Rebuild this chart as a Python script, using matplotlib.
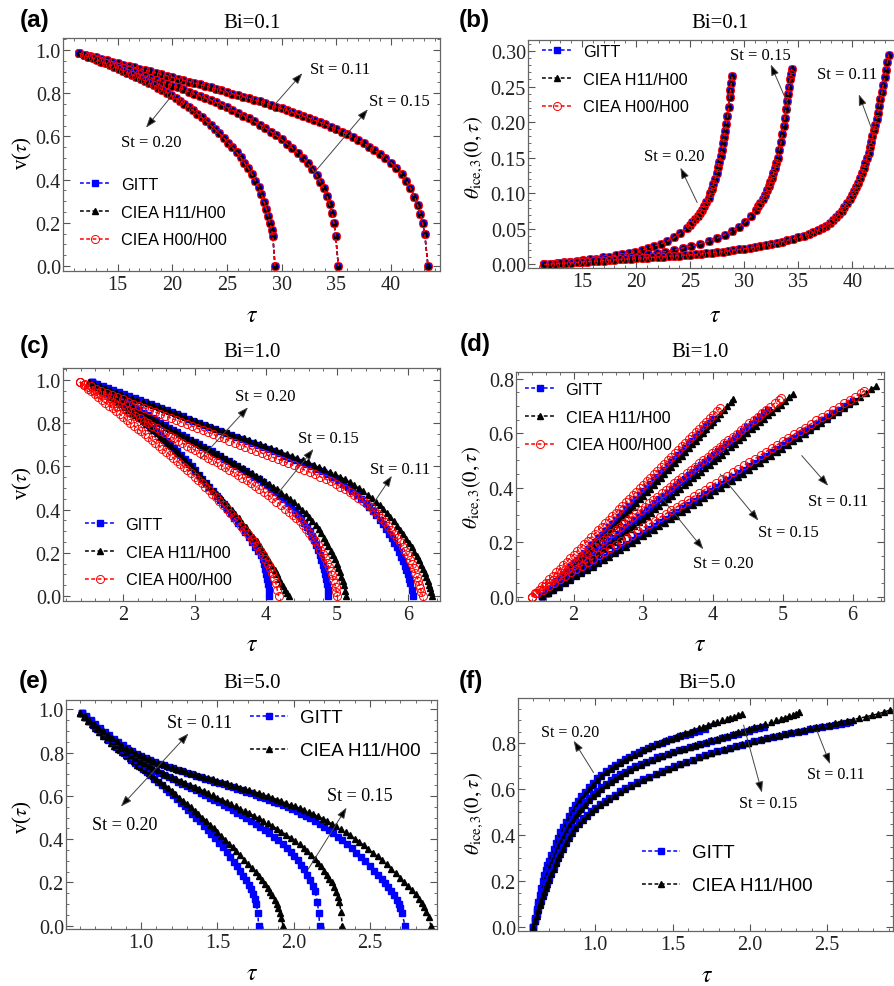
import matplotlib.pyplot as plt
from matplotlib.ticker import MultipleLocator, FormatStrFormatter

plt.rcParams['font.family'] = ['Liberation Serif', 'DejaVu Serif']
plt.rcParams['mathtext.fontset'] = 'stix'

W, H = 894, 987

# ---------------- (a) v(tau), Bi = 0.1  (the three methods overlap) ----------------
a_tau_011 = [11.5, 12.0, 12.5, 13.0, 13.5, 14.0, 14.5, 15.0, 15.5, 16.0, 16.5, 17.0, 17.5, 18.0,
             18.5, 19.0, 19.5, 20.0, 20.5, 21.0, 21.5, 22.0, 22.5, 23.0, 23.5, 24.0, 24.5, 25.0,
             25.5, 26.0, 26.5, 27.0, 27.5, 28.0, 28.5, 29.0, 29.5, 30.0, 30.5, 31.0, 31.5, 32.0,
             32.5, 33.0, 33.5, 34.0, 34.5, 35.0, 35.5, 36.0, 36.5, 37.0, 37.5, 38.0, 38.5, 39.0,
             39.5, 40.0, 40.5, 41.0, 41.4, 41.8, 42.15, 42.45, 42.7, 42.9, 43.1, 43.4]
a_v_011 = [0.985, 0.979, 0.972, 0.966, 0.959, 0.953, 0.946, 0.940, 0.933, 0.927, 0.920, 0.914,
           0.907, 0.901, 0.894, 0.888, 0.881, 0.874, 0.867, 0.861, 0.854, 0.848, 0.841, 0.834,
           0.827, 0.820, 0.813, 0.806, 0.798, 0.791, 0.784, 0.777, 0.769, 0.762, 0.754, 0.746,
           0.738, 0.730, 0.721, 0.713, 0.704, 0.695, 0.686, 0.676, 0.666, 0.656, 0.645, 0.634,
           0.622, 0.610, 0.597, 0.583, 0.569, 0.553, 0.537, 0.519, 0.500, 0.479, 0.455, 0.425,
           0.396, 0.360, 0.322, 0.282, 0.240, 0.200, 0.150, 0.0]
a_tau_015 = [11.5, 12.0, 12.5, 13.0, 13.5, 14.0, 14.5, 15.0, 15.5, 16.0, 16.5, 17.0, 17.5, 18.0,
             18.5, 19.0, 19.5, 20.0, 20.5, 21.0, 21.5, 22.0, 22.5, 23.0, 23.5, 24.0, 24.5, 25.0,
             25.5, 26.0, 26.5, 27.0, 27.5, 28.0, 28.5, 29.0, 29.5, 30.0, 30.5, 31.0, 31.5, 32.0,
             32.4, 32.8, 33.2, 33.55, 33.85, 34.15, 34.4, 34.6, 34.8, 34.95, 35.2]
a_v_015 = [0.985, 0.976, 0.968, 0.959, 0.950, 0.942, 0.933, 0.924, 0.916, 0.907, 0.898, 0.890,
           0.881, 0.872, 0.863, 0.854, 0.845, 0.836, 0.827, 0.818, 0.808, 0.798, 0.789, 0.779,
           0.769, 0.759, 0.748, 0.735, 0.722, 0.710, 0.697, 0.684, 0.670, 0.655, 0.640, 0.623,
           0.605, 0.586, 0.567, 0.546, 0.524, 0.499, 0.476, 0.450, 0.421, 0.390, 0.360, 0.323,
           0.285, 0.247, 0.200, 0.140, 0.0]
a_tau_020 = [11.5, 11.9, 12.3, 12.7, 13.1, 13.5, 13.9, 14.3, 14.7, 15.1, 15.5, 15.9, 16.3, 16.7,
             17.1, 17.5, 17.9, 18.3, 18.7, 19.1, 19.5, 19.9, 20.3, 20.7, 21.1, 21.5, 21.9, 22.3,
             22.7, 23.1, 23.5, 23.9, 24.3, 24.7, 25.1, 25.5, 25.9, 26.25, 26.6, 26.95, 27.3, 27.6,
             27.9, 28.15, 28.4, 28.6, 28.8, 28.95, 29.1, 29.2, 29.4]
a_v_020 = [0.985, 0.977, 0.969, 0.962, 0.954, 0.946, 0.938, 0.930, 0.922, 0.913, 0.904, 0.895,
           0.886, 0.877, 0.867, 0.857, 0.847, 0.837, 0.826, 0.815, 0.803, 0.791, 0.778, 0.765,
           0.751, 0.736, 0.721, 0.705, 0.688, 0.671, 0.653, 0.634, 0.615, 0.594, 0.572, 0.550,
           0.526, 0.503, 0.479, 0.453, 0.424, 0.396, 0.364, 0.332, 0.297, 0.265, 0.230, 0.200,
           0.165, 0.140, 0.0]

# ---------------- (b) theta_ice,3(0,tau), Bi = 0.1 ----------------
b_tau_020 = [11.5, 12.1, 12.7, 13.3, 13.9, 14.5, 15.1, 15.7, 16.3, 16.9, 17.5, 18.1, 18.7, 19.3,
             19.9, 20.5, 21.1, 21.7, 22.3, 22.9, 23.5, 24.1, 24.7, 24.95, 25.2, 25.45, 25.7, 25.9,
             26.1, 26.3, 26.5, 26.7, 26.85, 27.0, 27.15, 27.3, 27.45, 27.6, 27.7, 27.85, 27.95,
             28.05, 28.15, 28.25, 28.35, 28.45, 28.55, 28.65, 28.72, 28.8, 28.9]
b_th_020 = [0.0, 0.001, 0.002, 0.003, 0.004, 0.005, 0.006, 0.007, 0.008, 0.010, 0.011, 0.013,
            0.014, 0.016, 0.018, 0.020, 0.023, 0.026, 0.029, 0.033, 0.038, 0.044, 0.051, 0.055,
            0.059, 0.0635, 0.068, 0.0725, 0.077, 0.0825, 0.088, 0.094, 0.100, 0.106, 0.113,
            0.120, 0.128, 0.137, 0.144, 0.152, 0.161, 0.170, 0.179, 0.188, 0.198, 0.208, 0.221,
            0.235, 0.245, 0.255, 0.265]
b_tau_015 = [11.5, 12.3, 13.1, 13.9, 14.7, 15.5, 16.3, 17.1, 17.9, 18.7, 19.5, 20.3, 21.1, 21.9,
             22.7, 23.5, 24.3, 25.1, 25.9, 26.7, 27.5, 28.2, 28.9, 29.5, 30.1, 30.6, 31.1, 31.3,
             31.5, 31.7, 31.9, 32.1, 32.25, 32.4, 32.55, 32.7, 32.85, 32.98, 33.1, 33.25, 33.4,
             33.52, 33.65, 33.75, 33.85, 33.95, 34.05, 34.15, 34.25, 34.33, 34.4]
b_th_015 = [0.0, 0.001, 0.002, 0.003, 0.004, 0.005, 0.006, 0.007, 0.008, 0.010, 0.011, 0.012,
            0.014, 0.016, 0.018, 0.020, 0.023, 0.026, 0.029, 0.033, 0.037, 0.042, 0.047, 0.053,
            0.060, 0.068, 0.077, 0.082, 0.087, 0.0925, 0.098, 0.104, 0.110, 0.116, 0.122, 0.128,
            0.135, 0.142, 0.150, 0.161, 0.172, 0.183, 0.195, 0.206, 0.218, 0.229, 0.240, 0.250,
            0.260, 0.268, 0.275]
b_tau_011 = [11.5, 12.0, 12.5, 13.0, 13.5, 14.0, 14.5, 15.0, 15.5, 16.0, 16.5, 17.0, 17.5, 18.0,
             18.5, 19.0, 19.5, 20.0, 20.5, 21.0, 21.5, 22.0, 22.5, 23.0, 23.5, 24.0, 24.5, 25.0,
             25.5, 26.0, 26.5, 27.0, 27.5, 28.0, 28.5, 29.0, 29.5, 30.0, 30.5, 31.0, 31.5, 32.0,
             32.5, 33.0, 33.5, 34.0, 34.5, 35.0, 35.5, 36.0, 36.4, 36.8, 37.2, 37.55, 37.9, 38.2,
             38.5, 38.75, 39.0, 39.25, 39.5, 39.75, 39.95, 40.15, 40.35, 40.55, 40.7, 40.9, 41.05,
             41.2, 41.35, 41.5, 41.6, 41.75, 41.85, 42.0, 42.1, 42.25, 42.35, 42.5, 42.6, 42.75,
             42.85, 43.0, 43.1, 43.25, 43.35]
b_th_011 = [0.0, 0.0005, 0.001, 0.0015, 0.002, 0.0025, 0.003, 0.0035, 0.004, 0.0045, 0.005,
            0.0055, 0.006, 0.0065, 0.007, 0.0075, 0.008, 0.0085, 0.009, 0.0095, 0.010, 0.0105,
            0.011, 0.0115, 0.012, 0.0125, 0.013, 0.0135, 0.014, 0.015, 0.016, 0.0165, 0.017,
            0.018, 0.019, 0.020, 0.021, 0.022, 0.023, 0.0245, 0.026, 0.0275, 0.029, 0.0305,
            0.032, 0.034, 0.036, 0.038, 0.040, 0.0425, 0.045, 0.048, 0.051, 0.0545, 0.058,
            0.062, 0.066, 0.0705, 0.075, 0.0805, 0.086, 0.092, 0.097, 0.103, 0.109, 0.115,
            0.121, 0.128, 0.135, 0.142, 0.150, 0.157, 0.165, 0.172, 0.180, 0.189, 0.196, 0.205,
            0.213, 0.223, 0.232, 0.243, 0.252, 0.263, 0.273, 0.285, 0.295]

# ---------------- (c) v(tau), Bi = 1.0 ----------------
c_tau_gitt_020 = [1.56, 1.61, 1.66, 1.71, 1.76, 1.81, 1.86, 1.91, 1.96, 2.01, 2.06, 2.11, 2.16,
                  2.21, 2.26, 2.31, 2.36, 2.41, 2.46, 2.51, 2.56, 2.61, 2.66, 2.71, 2.76, 2.81,
                  2.86, 2.91, 2.96, 3.01, 3.06, 3.11, 3.16, 3.21, 3.26, 3.31, 3.36, 3.41, 3.46,
                  3.51, 3.56, 3.61, 3.66, 3.71, 3.76, 3.805, 3.85, 3.89, 3.93, 3.955, 3.98, 3.995,
                  4.01, 4.02, 4.03, 4.04, 4.05]
c_v_gitt_020 = [0.99, 0.979, 0.968, 0.957, 0.946, 0.934, 0.922, 0.910, 0.898, 0.886, 0.873,
                0.860, 0.847, 0.834, 0.820, 0.806, 0.792, 0.778, 0.763, 0.748, 0.733, 0.718,
                0.702, 0.686, 0.670, 0.653, 0.636, 0.618, 0.600, 0.581, 0.562, 0.543, 0.523,
                0.504, 0.484, 0.464, 0.444, 0.424, 0.404, 0.383, 0.362, 0.340, 0.318, 0.295,
                0.272, 0.250, 0.228, 0.209, 0.190, 0.170, 0.150, 0.125, 0.100, 0.078, 0.055,
                0.030, 0.0]
c_tau_h11_020 = [1.52, 1.57, 1.62, 1.67, 1.72, 1.77, 1.82, 1.87, 1.92, 1.97, 2.02, 2.07, 2.12,
                 2.17, 2.22, 2.27, 2.32, 2.37, 2.42, 2.47, 2.52, 2.57, 2.62, 2.67, 2.72, 2.77,
                 2.82, 2.87, 2.92, 2.97, 3.02, 3.07, 3.12, 3.17, 3.22, 3.27, 3.32, 3.37, 3.42,
                 3.47, 3.52, 3.57, 3.62, 3.67, 3.72, 3.77, 3.82, 3.87, 3.92, 3.965, 4.01, 4.05,
                 4.09, 4.125, 4.16, 4.19, 4.22, 4.245, 4.27, 4.295, 4.32]
c_v_h11_020 = [0.99, 0.979, 0.968, 0.957, 0.946, 0.935, 0.923, 0.911, 0.899, 0.887, 0.874,
               0.862, 0.849, 0.836, 0.822, 0.809, 0.795, 0.781, 0.767, 0.753, 0.738, 0.723,
               0.708, 0.693, 0.677, 0.661, 0.645, 0.629, 0.612, 0.595, 0.578, 0.561, 0.543,
               0.525, 0.506, 0.488, 0.470, 0.453, 0.435, 0.418, 0.400, 0.380, 0.360, 0.339,
               0.318, 0.297, 0.275, 0.253, 0.230, 0.208, 0.185, 0.163, 0.140, 0.120, 0.100,
               0.080, 0.060, 0.045, 0.030, 0.015, 0.0]
c_tau_h00_020 = [1.39, 1.445, 1.50, 1.55, 1.60, 1.65, 1.70, 1.75, 1.80, 1.85, 1.90, 1.95, 2.00,
                 2.05, 2.10, 2.15, 2.20, 2.25, 2.30, 2.35, 2.40, 2.45, 2.50, 2.55, 2.60, 2.65,
                 2.70, 2.75, 2.80, 2.85, 2.90, 2.95, 3.00, 3.05, 3.10, 3.15, 3.20, 3.25, 3.30,
                 3.35, 3.40, 3.45, 3.50, 3.55, 3.60, 3.65, 3.70, 3.75, 3.80, 3.84, 3.88, 3.92,
                 3.96, 3.995, 4.03, 4.06, 4.09, 4.115, 4.14, 4.16, 4.18]
c_v_h00_020 = [0.99, 0.975, 0.960, 0.948, 0.935, 0.922, 0.908, 0.894, 0.880, 0.868, 0.855,
               0.842, 0.828, 0.814, 0.800, 0.788, 0.775, 0.763, 0.750, 0.737, 0.723, 0.710,
               0.696, 0.682, 0.668, 0.654, 0.640, 0.626, 0.612, 0.598, 0.583, 0.568, 0.553,
               0.538, 0.522, 0.506, 0.490, 0.473, 0.456, 0.438, 0.420, 0.402, 0.383, 0.364,
               0.345, 0.325, 0.305, 0.285, 0.265, 0.248, 0.230, 0.210, 0.190, 0.170, 0.150,
               0.128, 0.105, 0.083, 0.060, 0.030, 0.0]

c_tau_gitt_015 = [1.56, 1.62, 1.68, 1.74, 1.80, 1.86, 1.92, 1.98, 2.04, 2.10, 2.16, 2.22, 2.28,
                  2.34, 2.40, 2.46, 2.52, 2.58, 2.64, 2.70, 2.76, 2.82, 2.88, 2.94, 3.00, 3.06,
                  3.12, 3.18, 3.24, 3.30, 3.36, 3.42, 3.48, 3.54, 3.60, 3.66, 3.72, 3.78, 3.84,
                  3.90, 3.96, 4.02, 4.08, 4.14, 4.20, 4.255, 4.31, 4.36, 4.41, 4.455, 4.50, 4.54,
                  4.58, 4.615, 4.65, 4.68, 4.71, 4.735, 4.76, 4.78, 4.80, 4.815, 4.83, 4.845,
                  4.86, 4.87, 4.88]
c_v_gitt_015 = [0.99, 0.977, 0.965, 0.953, 0.941, 0.929, 0.917, 0.905, 0.894, 0.882, 0.871,
                0.859, 0.848, 0.836, 0.825, 0.813, 0.802, 0.790, 0.779, 0.768, 0.757, 0.746,
                0.735, 0.724, 0.713, 0.702, 0.691, 0.680, 0.669, 0.658, 0.647, 0.636, 0.625,
                0.613, 0.602, 0.590, 0.578, 0.566, 0.553, 0.540, 0.526, 0.512, 0.497, 0.481,
                0.465, 0.449, 0.432, 0.415, 0.398, 0.379, 0.360, 0.340, 0.320, 0.299, 0.278,
                0.257, 0.235, 0.213, 0.190, 0.168, 0.145, 0.123, 0.100, 0.078, 0.055, 0.028, 0.0]
c_tau_h11_015 = [1.52, 1.58, 1.64, 1.70, 1.76, 1.82, 1.88, 1.94, 2.00, 2.06, 2.12, 2.18, 2.24,
                 2.30, 2.36, 2.42, 2.48, 2.54, 2.60, 2.66, 2.72, 2.78, 2.84, 2.90, 2.96, 3.02,
                 3.08, 3.14, 3.20, 3.26, 3.32, 3.38, 3.44, 3.50, 3.56, 3.62, 3.68, 3.74, 3.80,
                 3.86, 3.92, 3.98, 4.04, 4.10, 4.16, 4.22, 4.28, 4.34, 4.40, 4.455, 4.51, 4.56,
                 4.61, 4.655, 4.70, 4.74, 4.78, 4.815, 4.85, 4.88, 4.91, 4.94, 4.97, 4.995, 5.02,
                 5.04, 5.06, 5.08, 5.10, 5.115, 5.13]
c_v_h11_015 = [0.99, 0.978, 0.966, 0.954, 0.942, 0.930, 0.919, 0.907, 0.896, 0.884, 0.873,
               0.861, 0.850, 0.839, 0.828, 0.817, 0.806, 0.795, 0.784, 0.773, 0.762, 0.751,
               0.741, 0.730, 0.720, 0.709, 0.699, 0.688, 0.678, 0.667, 0.657, 0.646, 0.636,
               0.625, 0.614, 0.603, 0.592, 0.580, 0.569, 0.557, 0.545, 0.532, 0.520, 0.506,
               0.493, 0.478, 0.464, 0.448, 0.433, 0.416, 0.400, 0.383, 0.365, 0.346, 0.328,
               0.309, 0.290, 0.270, 0.250, 0.230, 0.210, 0.190, 0.170, 0.150, 0.130, 0.110,
               0.090, 0.070, 0.050, 0.025, 0.0]
c_tau_h00_015 = [1.39, 1.45, 1.51, 1.57, 1.63, 1.69, 1.75, 1.81, 1.87, 1.93, 1.99, 2.05, 2.11,
                 2.17, 2.23, 2.29, 2.35, 2.41, 2.47, 2.53, 2.59, 2.65, 2.71, 2.77, 2.83, 2.89,
                 2.95, 3.01, 3.07, 3.13, 3.19, 3.25, 3.31, 3.37, 3.43, 3.49, 3.55, 3.61, 3.67,
                 3.73, 3.79, 3.85, 3.91, 3.97, 4.03, 4.09, 4.15, 4.21, 4.27, 4.325, 4.38, 4.43,
                 4.48, 4.525, 4.57, 4.61, 4.65, 4.69, 4.73, 4.765, 4.80, 4.83, 4.86, 4.885, 4.91,
                 4.93, 4.95, 4.965, 4.98, 4.99, 5.00]
c_v_h00_015 = [0.99, 0.977, 0.965, 0.952, 0.940, 0.928, 0.916, 0.904, 0.893, 0.881, 0.870,
               0.858, 0.846, 0.834, 0.822, 0.810, 0.799, 0.787, 0.776, 0.764, 0.752, 0.741,
               0.730, 0.718, 0.707, 0.696, 0.685, 0.674, 0.663, 0.651, 0.640, 0.629, 0.618,
               0.606, 0.595, 0.583, 0.572, 0.560, 0.548, 0.535, 0.522, 0.509, 0.496, 0.482,
               0.467, 0.452, 0.437, 0.421, 0.404, 0.390, 0.375, 0.360, 0.345, 0.328, 0.310,
               0.293, 0.275, 0.255, 0.235, 0.215, 0.195, 0.175, 0.155, 0.135, 0.115, 0.095,
               0.075, 0.058, 0.040, 0.020, 0.0]

c_tau_gitt_011 = [1.56, 1.635, 1.71, 1.785, 1.86, 1.935, 2.01, 2.085, 2.16, 2.235, 2.31, 2.385,
                  2.46, 2.535, 2.61, 2.685, 2.76, 2.835, 2.91, 2.985, 3.06, 3.135, 3.21, 3.285,
                  3.36, 3.435, 3.51, 3.585, 3.66, 3.735, 3.81, 3.885, 3.96, 4.035, 4.11, 4.185,
                  4.26, 4.335, 4.41, 4.485, 4.56, 4.635, 4.71, 4.785, 4.86, 4.935, 5.01, 5.08,
                  5.15, 5.215, 5.28, 5.34, 5.40, 5.45, 5.50, 5.55, 5.60, 5.645, 5.69, 5.73, 5.77,
                  5.805, 5.84, 5.87, 5.90, 5.925, 5.95, 5.97, 5.99, 6.01, 6.03, 6.05, 6.07]
c_v_gitt_011 = [0.99, 0.981, 0.972, 0.963, 0.953, 0.944, 0.935, 0.926, 0.916, 0.907, 0.897,
                0.888, 0.878, 0.869, 0.859, 0.850, 0.840, 0.831, 0.821, 0.812, 0.802, 0.793,
                0.783, 0.774, 0.764, 0.755, 0.745, 0.736, 0.726, 0.717, 0.707, 0.698, 0.688,
                0.679, 0.669, 0.660, 0.650, 0.640, 0.630, 0.620, 0.610, 0.600, 0.590, 0.578,
                0.565, 0.550, 0.535, 0.519, 0.503, 0.486, 0.468, 0.449, 0.430, 0.412, 0.393,
                0.373, 0.352, 0.331, 0.310, 0.289, 0.268, 0.247, 0.225, 0.203, 0.180, 0.160,
                0.140, 0.120, 0.100, 0.080, 0.060, 0.030, 0.0]
c_tau_h11_011 = [1.52, 1.595, 1.67, 1.745, 1.82, 1.895, 1.97, 2.045, 2.12, 2.195, 2.27, 2.345,
                 2.42, 2.495, 2.57, 2.645, 2.72, 2.795, 2.87, 2.945, 3.02, 3.095, 3.17, 3.245,
                 3.32, 3.395, 3.47, 3.545, 3.62, 3.695, 3.77, 3.845, 3.92, 3.995, 4.07, 4.145,
                 4.22, 4.295, 4.37, 4.445, 4.52, 4.595, 4.67, 4.745, 4.82, 4.895, 4.97, 5.04,
                 5.11, 5.175, 5.24, 5.305, 5.37, 5.43, 5.49, 5.545, 5.60, 5.65, 5.70, 5.75, 5.80,
                 5.845, 5.89, 5.93, 5.97, 6.01, 6.05, 6.085, 6.12, 6.15, 6.18, 6.205, 6.23, 6.25,
                 6.27, 6.285, 6.30, 6.315, 6.33]
c_v_h11_011 = [0.99, 0.981, 0.972, 0.963, 0.954, 0.945, 0.936, 0.927, 0.918, 0.909, 0.900,
               0.891, 0.882, 0.873, 0.864, 0.855, 0.846, 0.837, 0.828, 0.819, 0.810, 0.801,
               0.792, 0.783, 0.774, 0.765, 0.756, 0.747, 0.738, 0.729, 0.720, 0.711, 0.702,
               0.693, 0.684, 0.675, 0.666, 0.657, 0.647, 0.638, 0.628, 0.618, 0.608, 0.598,
               0.587, 0.576, 0.564, 0.552, 0.540, 0.527, 0.514, 0.500, 0.485, 0.469, 0.453,
               0.436, 0.419, 0.401, 0.383, 0.364, 0.345, 0.326, 0.306, 0.286, 0.266, 0.246,
               0.225, 0.205, 0.185, 0.165, 0.145, 0.125, 0.105, 0.088, 0.070, 0.053, 0.035,
               0.018, 0.0]
c_tau_h00_011 = [1.39, 1.465, 1.54, 1.615, 1.69, 1.765, 1.84, 1.915, 1.99, 2.065, 2.14, 2.215,
                 2.29, 2.365, 2.44, 2.515, 2.59, 2.665, 2.74, 2.815, 2.89, 2.965, 3.04, 3.115,
                 3.19, 3.265, 3.34, 3.415, 3.49, 3.565, 3.64, 3.715, 3.79, 3.865, 3.94, 4.015,
                 4.09, 4.165, 4.24, 4.315, 4.39, 4.465, 4.54, 4.615, 4.69, 4.765, 4.84, 4.91,
                 4.98, 5.045, 5.11, 5.175, 5.24, 5.30, 5.36, 5.415, 5.47, 5.52, 5.57, 5.62, 5.67,
                 5.715, 5.76, 5.80, 5.84, 5.88, 5.92, 5.955, 5.99, 6.02, 6.05, 6.075, 6.10, 6.12,
                 6.14, 6.155, 6.17, 6.185, 6.20]
c_v_h00_011 = [0.99, 0.980, 0.970, 0.960, 0.950, 0.940, 0.930, 0.920, 0.910, 0.900, 0.890,
               0.881, 0.871, 0.862, 0.852, 0.843, 0.833, 0.824, 0.814, 0.805, 0.795, 0.786,
               0.776, 0.767, 0.757, 0.748, 0.738, 0.729, 0.719, 0.710, 0.700, 0.691, 0.681,
               0.672, 0.662, 0.653, 0.643, 0.634, 0.624, 0.614, 0.604, 0.594, 0.584, 0.574,
               0.563, 0.552, 0.541, 0.530, 0.518, 0.506, 0.494, 0.481, 0.468, 0.454, 0.440,
               0.425, 0.410, 0.394, 0.378, 0.361, 0.343, 0.325, 0.306, 0.287, 0.268, 0.248,
               0.228, 0.208, 0.188, 0.168, 0.148, 0.128, 0.108, 0.089, 0.070, 0.053, 0.035,
               0.018, 0.0]

# ---------------- (d) theta_ice,3(0,tau), Bi = 1.0 ----------------
d_tau_gitt_020 = [1.55, 1.60, 1.65, 1.70, 1.75, 1.80, 1.85, 1.90, 1.95, 2.00, 2.05, 2.10, 2.15,
                  2.20, 2.25, 2.30, 2.35, 2.40, 2.45, 2.50, 2.55, 2.60, 2.65, 2.70, 2.75, 2.80,
                  2.85, 2.90, 2.95, 3.00, 3.05, 3.10, 3.15, 3.20, 3.25, 3.30, 3.35, 3.40, 3.45,
                  3.50, 3.55, 3.60, 3.65, 3.70, 3.75, 3.80, 3.85, 3.90, 3.95, 4.00]
d_th_gitt_020 = [0.003, 0.016, 0.029, 0.042, 0.056, 0.069, 0.082, 0.095, 0.109, 0.122, 0.135,
                 0.148, 0.162, 0.175, 0.188, 0.201, 0.215, 0.228, 0.241, 0.254, 0.268, 0.281,
                 0.294, 0.307, 0.321, 0.334, 0.347, 0.360, 0.374, 0.387, 0.400, 0.413, 0.427,
                 0.440, 0.453, 0.466, 0.480, 0.493, 0.506, 0.519, 0.533, 0.546, 0.559, 0.572,
                 0.586, 0.599, 0.612, 0.625, 0.639, 0.652]
d_tau_h11_020 = [1.55, 1.60, 1.65, 1.70, 1.75, 1.80, 1.85, 1.90, 1.95, 2.00, 2.05, 2.10, 2.15,
                 2.20, 2.25, 2.30, 2.35, 2.40, 2.45, 2.50, 2.55, 2.60, 2.65, 2.70, 2.75, 2.80,
                 2.85, 2.90, 2.95, 3.00, 3.05, 3.10, 3.15, 3.20, 3.25, 3.30, 3.35, 3.40, 3.45,
                 3.50, 3.55, 3.60, 3.65, 3.70, 3.75, 3.80, 3.85, 3.90, 3.95, 4.00, 4.05, 4.10,
                 4.15, 4.20, 4.25, 4.29]
d_th_h11_020 = [0.003, 0.015, 0.027, 0.039, 0.051, 0.063, 0.076, 0.088, 0.100, 0.112, 0.125,
                0.138, 0.151, 0.163, 0.176, 0.188, 0.201, 0.214, 0.227, 0.239, 0.252, 0.265,
                0.279, 0.291, 0.304, 0.317, 0.330, 0.343, 0.357, 0.370, 0.383, 0.396, 0.409,
                0.423, 0.437, 0.450, 0.464, 0.477, 0.490, 0.504, 0.518, 0.531, 0.545, 0.559,
                0.573, 0.587, 0.601, 0.615, 0.629, 0.643, 0.657, 0.671, 0.685, 0.699, 0.713, 0.725]
d_tau_h00_020 = [1.40, 1.45, 1.50, 1.55, 1.60, 1.65, 1.70, 1.75, 1.80, 1.85, 1.90, 1.95, 2.00,
                 2.05, 2.10, 2.15, 2.20, 2.25, 2.30, 2.35, 2.40, 2.45, 2.50, 2.55, 2.60, 2.65,
                 2.70, 2.75, 2.80, 2.85, 2.90, 2.95, 3.00, 3.05, 3.10, 3.15, 3.20, 3.25, 3.30,
                 3.35, 3.40, 3.45, 3.50, 3.55, 3.60, 3.65, 3.70, 3.75, 3.80, 3.85, 3.90, 3.95,
                 4.00, 4.05, 4.10]
d_th_h00_020 = [0.0, 0.013, 0.026, 0.039, 0.051, 0.064, 0.077, 0.090, 0.103, 0.116, 0.129,
                0.141, 0.154, 0.167, 0.180, 0.193, 0.206, 0.218, 0.231, 0.244, 0.257, 0.270,
                0.283, 0.296, 0.308, 0.321, 0.334, 0.347, 0.360, 0.373, 0.386, 0.398, 0.411,
                0.424, 0.437, 0.450, 0.463, 0.475, 0.488, 0.501, 0.514, 0.527, 0.540, 0.553,
                0.565, 0.578, 0.591, 0.604, 0.617, 0.630, 0.643, 0.655, 0.668, 0.681, 0.694]

d_tau_gitt_015 = [1.55, 1.61, 1.67, 1.73, 1.79, 1.85, 1.91, 1.97, 2.03, 2.09, 2.15, 2.21, 2.27,
                  2.33, 2.39, 2.45, 2.51, 2.57, 2.63, 2.69, 2.75, 2.81, 2.87, 2.93, 2.99, 3.05,
                  3.11, 3.17, 3.23, 3.29, 3.35, 3.41, 3.47, 3.53, 3.59, 3.65, 3.71, 3.77, 3.83,
                  3.89, 3.95, 4.01, 4.07, 4.13, 4.19, 4.25, 4.31, 4.37, 4.43, 4.49, 4.55, 4.61,
                  4.67, 4.73, 4.79]
d_th_gitt_015 = [0.002, 0.015, 0.027, 0.040, 0.053, 0.065, 0.078, 0.091, 0.103, 0.116, 0.129,
                 0.141, 0.154, 0.167, 0.179, 0.192, 0.205, 0.217, 0.230, 0.243, 0.255, 0.268,
                 0.281, 0.293, 0.306, 0.319, 0.331, 0.344, 0.357, 0.369, 0.382, 0.395, 0.407,
                 0.420, 0.433, 0.445, 0.458, 0.471, 0.483, 0.496, 0.509, 0.521, 0.534, 0.547,
                 0.559, 0.572, 0.584, 0.597, 0.610, 0.622, 0.635, 0.648, 0.660, 0.673, 0.686]
d_tau_h11_015 = [1.55, 1.61, 1.67, 1.73, 1.79, 1.85, 1.91, 1.97, 2.03, 2.09, 2.15, 2.21, 2.27,
                 2.33, 2.39, 2.45, 2.51, 2.57, 2.63, 2.69, 2.75, 2.81, 2.87, 2.93, 2.99, 3.05,
                 3.11, 3.17, 3.23, 3.29, 3.35, 3.41, 3.47, 3.53, 3.59, 3.65, 3.71, 3.77, 3.83,
                 3.89, 3.95, 4.01, 4.07, 4.13, 4.19, 4.25, 4.31, 4.37, 4.43, 4.49, 4.55, 4.61,
                 4.67, 4.73, 4.79, 4.85, 4.91, 4.97, 5.03, 5.09, 5.15]
d_th_h11_015 = [0.002, 0.013, 0.025, 0.036, 0.048, 0.059, 0.071, 0.082, 0.094, 0.106, 0.118,
                0.129, 0.141, 0.153, 0.165, 0.176, 0.188, 0.200, 0.212, 0.224, 0.237, 0.249,
                0.261, 0.273, 0.286, 0.297, 0.309, 0.321, 0.334, 0.346, 0.359, 0.371, 0.384,
                0.396, 0.409, 0.421, 0.434, 0.446, 0.459, 0.472, 0.485, 0.497, 0.510, 0.522,
                0.535, 0.548, 0.561, 0.574, 0.587, 0.600, 0.614, 0.627, 0.640, 0.653, 0.666,
                0.679, 0.692, 0.705, 0.719, 0.732, 0.746]
d_tau_h00_015 = [1.40, 1.46, 1.52, 1.58, 1.64, 1.70, 1.76, 1.82, 1.88, 1.94, 2.00, 2.06, 2.12,
                 2.18, 2.24, 2.30, 2.36, 2.42, 2.48, 2.54, 2.60, 2.66, 2.72, 2.78, 2.84, 2.90,
                 2.96, 3.02, 3.08, 3.14, 3.20, 3.26, 3.32, 3.38, 3.44, 3.50, 3.56, 3.62, 3.68,
                 3.74, 3.80, 3.86, 3.92, 3.98, 4.04, 4.10, 4.16, 4.22, 4.28, 4.34, 4.40, 4.46,
                 4.52, 4.58, 4.64, 4.70, 4.76, 4.82, 4.88, 4.94, 4.98]
d_th_h00_015 = [0.0, 0.012, 0.024, 0.037, 0.049, 0.061, 0.073, 0.086, 0.098, 0.110, 0.122,
                0.135, 0.147, 0.159, 0.171, 0.184, 0.196, 0.208, 0.220, 0.232, 0.245, 0.257,
                0.269, 0.281, 0.294, 0.306, 0.318, 0.330, 0.343, 0.355, 0.367, 0.379, 0.391,
                0.404, 0.416, 0.428, 0.440, 0.453, 0.465, 0.477, 0.489, 0.502, 0.514, 0.526,
                0.538, 0.551, 0.563, 0.575, 0.587, 0.599, 0.612, 0.624, 0.636, 0.648, 0.661,
                0.673, 0.685, 0.697, 0.710, 0.722, 0.730]

d_tau_gitt_011 = [1.55, 1.63, 1.71, 1.79, 1.87, 1.95, 2.03, 2.11, 2.19, 2.27, 2.35, 2.43, 2.51,
                  2.59, 2.67, 2.75, 2.83, 2.91, 2.99, 3.07, 3.15, 3.23, 3.31, 3.39, 3.47, 3.55,
                  3.63, 3.71, 3.79, 3.87, 3.95, 4.03, 4.11, 4.19, 4.27, 4.35, 4.43, 4.51, 4.59,
                  4.67, 4.75, 4.83, 4.91, 4.99, 5.07, 5.15, 5.23, 5.31, 5.39, 5.47, 5.55, 5.63,
                  5.71, 5.79, 5.87, 5.95, 6.00]
d_th_gitt_011 = [0.002, 0.015, 0.027, 0.040, 0.053, 0.066, 0.079, 0.092, 0.105, 0.118, 0.131,
                 0.144, 0.157, 0.169, 0.182, 0.195, 0.208, 0.221, 0.234, 0.247, 0.260, 0.273,
                 0.286, 0.299, 0.312, 0.324, 0.337, 0.350, 0.363, 0.376, 0.389, 0.402, 0.415,
                 0.428, 0.441, 0.454, 0.466, 0.479, 0.492, 0.505, 0.518, 0.531, 0.544, 0.557,
                 0.570, 0.583, 0.596, 0.608, 0.621, 0.634, 0.647, 0.660, 0.673, 0.686, 0.699,
                 0.712, 0.720]
d_tau_h11_011 = [1.55, 1.63, 1.71, 1.79, 1.87, 1.95, 2.03, 2.11, 2.19, 2.27, 2.35, 2.43, 2.51,
                 2.59, 2.67, 2.75, 2.83, 2.91, 2.99, 3.07, 3.15, 3.23, 3.31, 3.39, 3.47, 3.55,
                 3.63, 3.71, 3.79, 3.87, 3.95, 4.03, 4.11, 4.19, 4.27, 4.35, 4.43, 4.51, 4.59,
                 4.67, 4.75, 4.83, 4.91, 4.99, 5.07, 5.15, 5.23, 5.31, 5.39, 5.47, 5.55, 5.63,
                 5.71, 5.79, 5.87, 5.95, 6.03, 6.11, 6.19, 6.27, 6.34]
d_th_h11_011 = [0.002, 0.013, 0.025, 0.037, 0.049, 0.061, 0.074, 0.086, 0.098, 0.110, 0.122,
                0.134, 0.147, 0.159, 0.171, 0.184, 0.196, 0.209, 0.221, 0.234, 0.246, 0.259,
                0.271, 0.284, 0.297, 0.310, 0.322, 0.335, 0.348, 0.361, 0.374, 0.387, 0.400,
                0.413, 0.426, 0.438, 0.452, 0.465, 0.478, 0.491, 0.504, 0.518, 0.531, 0.544,
                0.558, 0.571, 0.584, 0.598, 0.611, 0.625, 0.638, 0.652, 0.666, 0.679, 0.693,
                0.707, 0.720, 0.734, 0.748, 0.762, 0.774]
d_tau_h00_011 = [1.40, 1.48, 1.56, 1.64, 1.72, 1.80, 1.88, 1.96, 2.04, 2.12, 2.20, 2.28, 2.36,
                 2.44, 2.52, 2.60, 2.68, 2.76, 2.84, 2.92, 3.00, 3.08, 3.16, 3.24, 3.32, 3.40,
                 3.48, 3.56, 3.64, 3.72, 3.80, 3.88, 3.96, 4.04, 4.12, 4.20, 4.28, 4.36, 4.44,
                 4.52, 4.60, 4.68, 4.76, 4.84, 4.92, 5.00, 5.08, 5.16, 5.24, 5.32, 5.40, 5.48,
                 5.56, 5.64, 5.72, 5.80, 5.88, 5.96, 6.04, 6.12, 6.17]
d_th_h00_011 = [0.0, 0.013, 0.025, 0.038, 0.051, 0.063, 0.076, 0.089, 0.101, 0.114, 0.127,
                0.139, 0.152, 0.165, 0.178, 0.190, 0.203, 0.216, 0.228, 0.241, 0.254, 0.266,
                0.279, 0.292, 0.304, 0.317, 0.330, 0.342, 0.355, 0.368, 0.380, 0.393, 0.406,
                0.418, 0.431, 0.444, 0.456, 0.469, 0.482, 0.495, 0.507, 0.520, 0.533, 0.545,
                0.558, 0.571, 0.583, 0.596, 0.609, 0.621, 0.634, 0.647, 0.659, 0.672, 0.685,
                0.697, 0.710, 0.723, 0.735, 0.748, 0.756]

# ---------------- (e) v(tau), Bi = 5.0 ----------------
e_tau_gitt_011 = [0.61, 0.64, 0.67, 0.70, 0.73, 0.76, 0.79, 0.82, 0.85, 0.88, 0.91, 0.94, 0.97,
                  1.00, 1.03, 1.06, 1.09, 1.12, 1.15, 1.18, 1.21, 1.24, 1.27, 1.30, 1.33, 1.36,
                  1.39, 1.42, 1.45, 1.48, 1.51, 1.54, 1.57, 1.60, 1.63, 1.66, 1.69, 1.72, 1.75,
                  1.78, 1.81, 1.84, 1.87, 1.90, 1.93, 1.96, 1.99, 2.02, 2.05, 2.08, 2.11, 2.14,
                  2.17, 2.20, 2.23, 2.26, 2.29, 2.32, 2.35, 2.38, 2.41, 2.44, 2.47, 2.50, 2.53,
                  2.555, 2.58, 2.60, 2.62, 2.64, 2.66, 2.675, 2.69, 2.70, 2.71, 2.73]
e_v_gitt_011 = [0.985, 0.967, 0.950, 0.932, 0.915, 0.897, 0.880, 0.865, 0.850, 0.835, 0.820,
                0.807, 0.795, 0.785, 0.775, 0.766, 0.757, 0.749, 0.742, 0.735, 0.728, 0.721,
                0.714, 0.707, 0.700, 0.693, 0.686, 0.679, 0.673, 0.666, 0.660, 0.653, 0.647,
                0.640, 0.633, 0.626, 0.619, 0.612, 0.604, 0.597, 0.589, 0.581, 0.573, 0.565,
                0.556, 0.547, 0.538, 0.528, 0.518, 0.507, 0.496, 0.484, 0.471, 0.457, 0.443,
                0.427, 0.411, 0.394, 0.376, 0.357, 0.338, 0.318, 0.298, 0.277, 0.255, 0.235,
                0.215, 0.197, 0.178, 0.159, 0.140, 0.120, 0.100, 0.080, 0.060, 0.0]
e_tau_h11_011 = [0.60, 0.63, 0.66, 0.69, 0.72, 0.75, 0.78, 0.81, 0.84, 0.87, 0.90, 0.93, 0.96,
                 0.99, 1.02, 1.05, 1.08, 1.11, 1.14, 1.17, 1.20, 1.23, 1.26, 1.29, 1.32, 1.35,
                 1.38, 1.41, 1.44, 1.47, 1.50, 1.53, 1.56, 1.59, 1.62, 1.65, 1.68, 1.71, 1.74,
                 1.77, 1.80, 1.83, 1.86, 1.89, 1.92, 1.95, 1.98, 2.01, 2.04, 2.07, 2.10, 2.13,
                 2.16, 2.19, 2.22, 2.25, 2.28, 2.31, 2.34, 2.37, 2.40, 2.43, 2.46, 2.49, 2.52,
                 2.55, 2.58, 2.61, 2.64, 2.67, 2.70, 2.725, 2.75, 2.775, 2.80, 2.82, 2.84, 2.855,
                 2.87, 2.885, 2.90]
e_v_h11_011 = [0.985, 0.967, 0.950, 0.932, 0.915, 0.898, 0.882, 0.867, 0.852, 0.837, 0.823,
               0.811, 0.799, 0.789, 0.779, 0.770, 0.762, 0.754, 0.747, 0.740, 0.733, 0.726,
               0.720, 0.713, 0.707, 0.700, 0.694, 0.688, 0.682, 0.676, 0.670, 0.664, 0.658,
               0.651, 0.645, 0.638, 0.632, 0.625, 0.619, 0.612, 0.605, 0.598, 0.591, 0.583,
               0.576, 0.568, 0.560, 0.551, 0.543, 0.534, 0.525, 0.515, 0.505, 0.494, 0.483,
               0.471, 0.459, 0.446, 0.432, 0.418, 0.403, 0.388, 0.372, 0.355, 0.338, 0.320,
               0.302, 0.283, 0.263, 0.243, 0.222, 0.204, 0.185, 0.165, 0.145, 0.125, 0.105,
               0.085, 0.065, 0.040, 0.0]
e_tau_gitt_015 = [0.61, 0.64, 0.67, 0.70, 0.73, 0.76, 0.79, 0.82, 0.85, 0.88, 0.91, 0.94, 0.97,
                  1.00, 1.03, 1.06, 1.09, 1.12, 1.15, 1.18, 1.21, 1.24, 1.27, 1.30, 1.33, 1.36,
                  1.39, 1.42, 1.45, 1.48, 1.51, 1.54, 1.57, 1.60, 1.63, 1.66, 1.69, 1.72, 1.75,
                  1.78, 1.81, 1.84, 1.87, 1.90, 1.93, 1.955, 1.98, 2.005, 2.03, 2.05, 2.07, 2.09,
                  2.11, 2.125, 2.14, 2.155, 2.165, 2.17]
e_v_gitt_015 = [0.985, 0.965, 0.945, 0.925, 0.905, 0.885, 0.865, 0.847, 0.830, 0.812, 0.795,
                0.780, 0.765, 0.752, 0.740, 0.728, 0.717, 0.706, 0.696, 0.686, 0.676, 0.666,
                0.656, 0.646, 0.635, 0.625, 0.614, 0.603, 0.592, 0.581, 0.570, 0.559, 0.547,
                0.535, 0.523, 0.511, 0.498, 0.485, 0.472, 0.458, 0.443, 0.428, 0.412, 0.395,
                0.377, 0.360, 0.343, 0.323, 0.302, 0.282, 0.260, 0.236, 0.210, 0.185, 0.160,
                0.110, 0.060, 0.0]
e_tau_h11_015 = [0.60, 0.63, 0.66, 0.69, 0.72, 0.75, 0.78, 0.81, 0.84, 0.87, 0.90, 0.93, 0.96,
                 0.99, 1.02, 1.05, 1.08, 1.11, 1.14, 1.17, 1.20, 1.23, 1.26, 1.29, 1.32, 1.35,
                 1.38, 1.41, 1.44, 1.47, 1.50, 1.53, 1.56, 1.59, 1.62, 1.65, 1.68, 1.71, 1.74,
                 1.77, 1.80, 1.83, 1.86, 1.89, 1.92, 1.95, 1.98, 2.01, 2.04, 2.065, 2.09, 2.115,
                 2.14, 2.16, 2.18, 2.20, 2.22, 2.235, 2.25, 2.265, 2.28, 2.29, 2.30, 2.31, 2.32]
e_v_h11_015 = [0.985, 0.965, 0.945, 0.926, 0.907, 0.888, 0.870, 0.852, 0.835, 0.819, 0.803,
               0.789, 0.775, 0.762, 0.750, 0.739, 0.728, 0.718, 0.708, 0.698, 0.689, 0.679,
               0.670, 0.660, 0.651, 0.641, 0.632, 0.622, 0.612, 0.602, 0.592, 0.582, 0.572,
               0.561, 0.551, 0.540, 0.530, 0.519, 0.508, 0.497, 0.485, 0.473, 0.461, 0.448,
               0.435, 0.421, 0.407, 0.392, 0.376, 0.361, 0.345, 0.327, 0.309, 0.292, 0.275,
               0.255, 0.235, 0.218, 0.200, 0.178, 0.155, 0.133, 0.110, 0.065, 0.0]
e_tau_gitt_020 = [0.61, 0.635, 0.66, 0.685, 0.71, 0.735, 0.76, 0.785, 0.81, 0.835, 0.86, 0.885,
                  0.91, 0.935, 0.96, 0.985, 1.01, 1.035, 1.06, 1.085, 1.11, 1.135, 1.16, 1.185,
                  1.21, 1.235, 1.26, 1.285, 1.31, 1.335, 1.36, 1.385, 1.41, 1.435, 1.46, 1.485,
                  1.51, 1.535, 1.56, 1.585, 1.61, 1.63, 1.65, 1.67, 1.69, 1.705, 1.72, 1.735,
                  1.745, 1.755, 1.765, 1.77]
e_v_gitt_020 = [0.985, 0.966, 0.948, 0.929, 0.911, 0.893, 0.876, 0.859, 0.843, 0.827, 0.812,
                0.797, 0.782, 0.767, 0.753, 0.738, 0.724, 0.710, 0.695, 0.680, 0.665, 0.650,
                0.634, 0.618, 0.602, 0.586, 0.569, 0.552, 0.535, 0.518, 0.500, 0.482, 0.463,
                0.444, 0.424, 0.404, 0.383, 0.362, 0.340, 0.317, 0.294, 0.274, 0.253, 0.232,
                0.210, 0.190, 0.170, 0.145, 0.125, 0.100, 0.060, 0.0]
e_tau_h11_020 = [0.60, 0.625, 0.65, 0.675, 0.70, 0.725, 0.75, 0.775, 0.80, 0.825, 0.85, 0.875,
                 0.90, 0.925, 0.95, 0.975, 1.00, 1.025, 1.05, 1.075, 1.10, 1.125, 1.15, 1.175,
                 1.20, 1.225, 1.25, 1.275, 1.30, 1.325, 1.35, 1.375, 1.40, 1.425, 1.45, 1.475,
                 1.50, 1.525, 1.55, 1.575, 1.60, 1.625, 1.65, 1.675, 1.70, 1.725, 1.75, 1.77,
                 1.79, 1.81, 1.83, 1.845, 1.86, 1.875, 1.89, 1.90, 1.91, 1.92, 1.93]
e_v_h11_020 = [0.985, 0.966, 0.948, 0.930, 0.912, 0.895, 0.878, 0.862, 0.846, 0.831, 0.816,
               0.801, 0.787, 0.773, 0.759, 0.745, 0.732, 0.718, 0.705, 0.691, 0.678, 0.664,
               0.650, 0.636, 0.621, 0.607, 0.592, 0.577, 0.562, 0.547, 0.531, 0.516, 0.500,
               0.484, 0.467, 0.450, 0.433, 0.416, 0.398, 0.380, 0.362, 0.344, 0.325, 0.306,
               0.287, 0.267, 0.247, 0.230, 0.213, 0.194, 0.175, 0.158, 0.140, 0.120, 0.100,
               0.080, 0.060, 0.035, 0.0]

# ---------------- (f) theta_ice,3(0,tau), Bi = 5.0 ----------------
f_tau_gitt_020 = [0.60, 0.61, 0.62, 0.63, 0.64, 0.65, 0.66, 0.67, 0.68, 0.69, 0.70, 0.715, 0.73,
                  0.745, 0.76, 0.775, 0.79, 0.81, 0.83, 0.85, 0.87, 0.89, 0.91, 0.935, 0.96,
                  0.985, 1.01, 1.04, 1.07, 1.10, 1.13, 1.16, 1.19, 1.22, 1.25, 1.28, 1.31, 1.34,
                  1.37, 1.40, 1.43, 1.46, 1.49, 1.52, 1.55, 1.58, 1.61, 1.64, 1.67, 1.71]
f_th_gitt_020 = [0.0, 0.04, 0.08, 0.11, 0.14, 0.17, 0.20, 0.225, 0.25, 0.27, 0.29, 0.315, 0.34,
                 0.365, 0.39, 0.413, 0.435, 0.46, 0.485, 0.508, 0.53, 0.55, 0.57, 0.59, 0.61,
                 0.629, 0.648, 0.664, 0.68, 0.694, 0.707, 0.719, 0.731, 0.742, 0.752, 0.762,
                 0.771, 0.78, 0.788, 0.796, 0.804, 0.811, 0.818, 0.825, 0.831, 0.837, 0.843,
                 0.849, 0.854, 0.862]
f_tau_h11_020 = [0.60, 0.61, 0.62, 0.63, 0.64, 0.65, 0.66, 0.67, 0.68, 0.69, 0.70, 0.715, 0.73,
                 0.745, 0.76, 0.775, 0.79, 0.81, 0.83, 0.85, 0.87, 0.89, 0.91, 0.935, 0.96,
                 0.985, 1.01, 1.04, 1.07, 1.10, 1.13, 1.16, 1.19, 1.22, 1.25, 1.28, 1.31, 1.34,
                 1.37, 1.40, 1.43, 1.46, 1.49, 1.52, 1.55, 1.58, 1.61, 1.64, 1.67, 1.70, 1.73,
                 1.76, 1.79, 1.82, 1.85, 1.875, 1.90, 1.925, 1.95]
f_th_h11_020 = [0.0, 0.036, 0.07, 0.10, 0.13, 0.16, 0.19, 0.215, 0.24, 0.26, 0.28, 0.305, 0.33,
                0.355, 0.38, 0.403, 0.425, 0.45, 0.475, 0.498, 0.52, 0.54, 0.56, 0.58, 0.60,
                0.62, 0.64, 0.658, 0.675, 0.689, 0.703, 0.716, 0.728, 0.739, 0.75, 0.76, 0.77,
                0.779, 0.788, 0.797, 0.805, 0.813, 0.821, 0.829, 0.836, 0.844, 0.851, 0.859,
                0.866, 0.873, 0.88, 0.887, 0.893, 0.90, 0.906, 0.912, 0.917, 0.923, 0.929]
f_tau_gitt_015 = [0.60, 0.61, 0.62, 0.63, 0.64, 0.65, 0.66, 0.67, 0.68, 0.69, 0.70, 0.715, 0.73,
                  0.745, 0.76, 0.775, 0.79, 0.81, 0.83, 0.85, 0.87, 0.89, 0.91, 0.935, 0.96,
                  0.985, 1.01, 1.04, 1.07, 1.10, 1.13, 1.16, 1.19, 1.225, 1.26, 1.295, 1.33,
                  1.365, 1.40, 1.435, 1.47, 1.505, 1.54, 1.575, 1.61, 1.645, 1.68, 1.715, 1.75,
                  1.785, 1.82, 1.855, 1.89, 1.925, 1.96, 1.995, 2.03, 2.06, 2.09]
f_th_gitt_015 = [0.0, 0.035, 0.07, 0.095, 0.12, 0.145, 0.17, 0.193, 0.215, 0.235, 0.255, 0.283,
                 0.31, 0.333, 0.355, 0.378, 0.40, 0.425, 0.45, 0.47, 0.49, 0.508, 0.525, 0.544,
                 0.562, 0.578, 0.593, 0.609, 0.625, 0.639, 0.653, 0.665, 0.677, 0.689, 0.701,
                 0.711, 0.721, 0.73, 0.739, 0.747, 0.755, 0.763, 0.77, 0.777, 0.784, 0.791,
                 0.797, 0.804, 0.81, 0.817, 0.823, 0.83, 0.836, 0.843, 0.849, 0.855, 0.861,
                 0.867, 0.872]
f_tau_h11_015 = [0.60, 0.61, 0.62, 0.63, 0.64, 0.65, 0.66, 0.67, 0.68, 0.69, 0.70, 0.715, 0.73,
                 0.745, 0.76, 0.775, 0.79, 0.81, 0.83, 0.85, 0.87, 0.89, 0.91, 0.935, 0.96,
                 0.985, 1.01, 1.04, 1.07, 1.10, 1.13, 1.16, 1.19, 1.225, 1.26, 1.295, 1.33,
                 1.365, 1.40, 1.435, 1.47, 1.505, 1.54, 1.575, 1.61, 1.645, 1.68, 1.715, 1.75,
                 1.785, 1.82, 1.855, 1.89, 1.925, 1.96, 1.995, 2.03, 2.065, 2.10, 2.135, 2.17,
                 2.20, 2.23, 2.255, 2.28, 2.30, 2.32]
f_th_h11_015 = [0.0, 0.03, 0.06, 0.085, 0.11, 0.135, 0.16, 0.183, 0.205, 0.225, 0.245, 0.273,
                0.30, 0.323, 0.345, 0.368, 0.39, 0.415, 0.44, 0.46, 0.48, 0.498, 0.515, 0.534,
                0.553, 0.569, 0.585, 0.602, 0.618, 0.633, 0.647, 0.66, 0.672, 0.685, 0.697,
                0.708, 0.718, 0.728, 0.737, 0.746, 0.754, 0.762, 0.77, 0.778, 0.785, 0.792,
                0.799, 0.806, 0.813, 0.82, 0.827, 0.834, 0.841, 0.848, 0.855, 0.862, 0.87,
                0.877, 0.885, 0.892, 0.90, 0.906, 0.913, 0.919, 0.925, 0.93, 0.936]
f_tau_gitt_011 = [0.60, 0.61, 0.62, 0.63, 0.64, 0.65, 0.66, 0.67, 0.68, 0.69, 0.70, 0.715, 0.73,
                  0.745, 0.76, 0.775, 0.79, 0.81, 0.83, 0.85, 0.87, 0.895, 0.92, 0.945, 0.97,
                  1.00, 1.03, 1.06, 1.09, 1.125, 1.16, 1.195, 1.23, 1.27, 1.31, 1.35, 1.39, 1.43,
                  1.47, 1.51, 1.55, 1.59, 1.63, 1.67, 1.71, 1.75, 1.79, 1.83, 1.87, 1.91, 1.95,
                  1.99, 2.03, 2.07, 2.11, 2.15, 2.19, 2.23, 2.27, 2.31, 2.35, 2.39, 2.43, 2.47,
                  2.51, 2.55, 2.59, 2.62, 2.65]
f_th_gitt_011 = [0.0, 0.028, 0.055, 0.078, 0.10, 0.12, 0.14, 0.159, 0.177, 0.195, 0.212, 0.237,
                 0.262, 0.285, 0.307, 0.327, 0.347, 0.372, 0.397, 0.417, 0.437, 0.456, 0.474,
                 0.49, 0.505, 0.52, 0.535, 0.549, 0.563, 0.577, 0.591, 0.604, 0.617, 0.63,
                 0.643, 0.655, 0.667, 0.678, 0.689, 0.70, 0.71, 0.72, 0.73, 0.739, 0.748, 0.757,
                 0.765, 0.773, 0.781, 0.788, 0.795, 0.802, 0.809, 0.816, 0.822, 0.828, 0.834,
                 0.84, 0.845, 0.851, 0.856, 0.861, 0.866, 0.871, 0.876, 0.881, 0.886, 0.89, 0.893]
f_tau_h11_011 = [0.60, 0.61, 0.62, 0.63, 0.64, 0.65, 0.66, 0.67, 0.68, 0.69, 0.70, 0.715, 0.73,
                 0.745, 0.76, 0.775, 0.79, 0.81, 0.83, 0.85, 0.87, 0.895, 0.92, 0.945, 0.97,
                 1.00, 1.03, 1.06, 1.09, 1.125, 1.16, 1.195, 1.23, 1.27, 1.31, 1.35, 1.39, 1.43,
                 1.47, 1.51, 1.55, 1.59, 1.63, 1.67, 1.71, 1.75, 1.79, 1.83, 1.87, 1.91, 1.95,
                 1.99, 2.03, 2.07, 2.11, 2.15, 2.19, 2.23, 2.27, 2.31, 2.35, 2.39, 2.43, 2.47,
                 2.51, 2.55, 2.59, 2.63, 2.67, 2.71, 2.75, 2.79, 2.83, 2.87, 2.91]
f_th_h11_011 = [0.0, 0.025, 0.05, 0.073, 0.095, 0.115, 0.135, 0.153, 0.17, 0.188, 0.205, 0.23,
                0.255, 0.278, 0.30, 0.32, 0.34, 0.365, 0.39, 0.41, 0.43, 0.45, 0.468, 0.485,
                0.50, 0.515, 0.53, 0.544, 0.558, 0.573, 0.587, 0.601, 0.614, 0.628, 0.641,
                0.653, 0.665, 0.677, 0.688, 0.699, 0.71, 0.72, 0.73, 0.74, 0.749, 0.758, 0.766,
                0.774, 0.782, 0.79, 0.797, 0.804, 0.811, 0.818, 0.824, 0.831, 0.837, 0.843,
                0.849, 0.855, 0.86, 0.866, 0.871, 0.877, 0.882, 0.888, 0.893, 0.899, 0.904,
                0.91, 0.916, 0.922, 0.929, 0.937, 0.946]

LABELS = {'gitt': 'GITT', 'h11': 'CIEA H11/H00', 'h00': 'CIEA H00/H00'}
STYLE = {
    'gitt': dict(color='#0000ff', marker='s', ms=4.3),
    'h11': dict(color='black', marker='^', ms=4.9),
    'h00': dict(color='#ff0000', marker='o', ms=5.8, mfc='none', mew=0.7),
}

fig = plt.figure(figsize=(W / 100, H / 100), dpi=100)


def px(x, y):
    return x / W, 1 - y / H


def make_axes(l, t, r, b):
    return fig.add_axes([l / W, 1 - b / H, (r - l) / W, (b - t) / H])


def series(ax, tau, val, m, label=True):
    ax.plot(tau, val, ls=(0, (2.5, 1.6)), lw=1.1, label=LABELS[m] if label else None,
            **STYLE[m])


def frame(ax, xlim, ylim, xticks, xminor, yticks, yminor, xfmt, yfmt):
    ax.set_xlim(*xlim)
    ax.set_ylim(*ylim)
    ax.set_xticks(xticks)
    ax.set_yticks(yticks)
    ax.xaxis.set_minor_locator(MultipleLocator(xminor))
    ax.yaxis.set_minor_locator(MultipleLocator(yminor))
    ax.xaxis.set_major_formatter(FormatStrFormatter(xfmt))
    ax.yaxis.set_major_formatter(FormatStrFormatter(yfmt))
    ax.tick_params(which='both', direction='in', top=True, right=True, colors='#555555',
                   labelcolor='#222222', labelsize=14.5)
    ax.tick_params(axis='y', pad=1.5)
    ax.tick_params(axis='x', pad=3)
    ax.tick_params(which='major', length=5, width=0.8)
    ax.tick_params(which='minor', length=2.5, width=0.6)
    for s in ax.spines.values():
        s.set_color('#666666')
        s.set_linewidth(0.9)


def legend(ax, x, y, fs=11.7, sp=0.78, hl=1.85):
    ax.legend(loc='upper left', bbox_to_anchor=px(x, y), bbox_transform=fig.transFigure,
              frameon=False, borderpad=0, borderaxespad=0, handlelength=hl,
              handletextpad=0.65, labelspacing=sp, numpoints=1,
              prop={'family': 'Liberation Sans', 'size': fs})


def arrow(ax, base, head, both=False):
    style = '<|-|>' if both else '-|>'
    ax.annotate('', xy=head, xytext=base, zorder=6,
                arrowprops=dict(arrowstyle=style + ',head_length=0.55,head_width=0.2',
                                fc='black', ec='#444444', lw=0.7, mutation_scale=12,
                                shrinkA=0, shrinkB=0))


def st_label(ax, x, y, s, fs=12):
    ax.text(x, y, s, fontsize=fs, ha='center', va='center', zorder=7)


def texts(tag, tag_xy, title, title_xy, ylab, ylab_xy, tau_xy):
    fig.text(*px(*tag_xy), tag, family='Liberation Sans', weight='bold', fontsize=17.5,
             ha='left', va='center')
    fig.text(*px(*title_xy), title, fontsize=15, ha='center', va='center')
    fig.text(*px(*ylab_xy), ylab, fontsize=15, rotation=90, ha='center', va='center')
    fig.text(*px(*tau_xy), r'$\tau$', fontsize=17, ha='center', va='center')


VLAB = r'v($\tau$)'
TLAB = r'$\theta_{\mathrm{ice,3}}(0,\tau)$'

# ---- (a)
ax = make_axes(63, 39, 440, 272)
for i, (t, v) in enumerate([(a_tau_011, a_v_011), (a_tau_015, a_v_015), (a_tau_020, a_v_020)]):
    for m in ('gitt', 'h11', 'h00'):
        series(ax, t, v, m, label=(i == 0))
frame(ax, (10, 44.5), (-0.023, 1.056), [15, 20, 25, 30, 35, 40], 1,
      [0, 0.2, 0.4, 0.6, 0.8, 1.0], 0.05, '%d', '%.1f')
legend(ax, 80, 178)
arrow(ax, (29.5, 0.755), (31.9, 0.893))
arrow(ax, (33.0, 0.433), (37.9, 0.726))
arrow(ax, (19.7, 0.773), (17.6, 0.641))
st_label(ax, 35.4, 0.912, 'St = 0.11')
st_label(ax, 40.8, 0.765, 'St = 0.15')
st_label(ax, 18.1, 0.575, 'St = 0.20')
texts('(a)', (20, 21), 'Bi=0.1', (252, 23), VLAB, (22, 153), (252, 316))

# ---- (b)
ax = make_axes(528, 41, 901, 269)
for i, (t, v) in enumerate([(b_tau_020, b_th_020), (b_tau_015, b_th_015), (b_tau_011, b_th_011)]):
    for m in ('gitt', 'h11', 'h00'):
        series(ax, t, v, m, label=(i == 0))
frame(ax, (10, 44.5), (-0.005, 0.3154), [15, 20, 25, 30, 35, 40], 1,
      [0, 0.05, 0.10, 0.15, 0.20, 0.25, 0.30], 0.01, '%d', '%.2f')
legend(ax, 542, 45)
arrow(ax, (25.65, 0.087), (24.1, 0.136))
arrow(ax, (34.3, 0.216), (32.45, 0.281))
arrow(ax, (41.85, 0.188), (40.6, 0.239))
st_label(ax, 23.5, 0.153, 'St = 0.20')
st_label(ax, 31.45, 0.294, 'St = 0.15')
st_label(ax, 39.55, 0.267, 'St = 0.11')
texts('(b)', (459, 21), 'Bi=0.1', (720, 23), TLAB, (474, 157), (715, 316))

# ---- (c)
ax = make_axes(63, 369, 440, 602)
c_sets = [
    ((c_tau_gitt_020, c_v_gitt_020), (c_tau_h11_020, c_v_h11_020), (c_tau_h00_020, c_v_h00_020)),
    ((c_tau_gitt_015, c_v_gitt_015), (c_tau_h11_015, c_v_h11_015), (c_tau_h00_015, c_v_h00_015)),
    ((c_tau_gitt_011, c_v_gitt_011), (c_tau_h11_011, c_v_h11_011), (c_tau_h00_011, c_v_h00_011)),
]
for i, trio in enumerate(c_sets):
    for m, (t, v) in zip(('gitt', 'h11', 'h00'), trio):
        series(ax, t, v, m, label=(i == 0))
frame(ax, (1.154, 6.445), (-0.023, 1.055), [2, 3, 4, 5, 6], 0.2,
      [0, 0.2, 0.4, 0.6, 0.8, 1.0], 0.05, '%d', '%.1f')
legend(ax, 85, 518)
arrow(ax, (3.08, 0.634), (3.75, 0.873))
arrow(ax, (4.18, 0.479), (4.67, 0.68))
arrow(ax, (5.44, 0.394), (5.77, 0.556))
st_label(ax, 3.99, 0.924, 'St = 0.20')
st_label(ax, 4.88, 0.73, 'St = 0.15')
st_label(ax, 5.88, 0.587, 'St = 0.11')
texts('(c)', (20, 346), 'Bi=1.0', (252, 353), VLAB, (22, 483), (252, 646))

# ---- (d)
ax = make_axes(516, 373, 884, 602)
d_sets = [
    ((d_tau_gitt_020, d_th_gitt_020), (d_tau_h11_020, d_th_h11_020), (d_tau_h00_020, d_th_h00_020)),
    ((d_tau_gitt_015, d_th_gitt_015), (d_tau_h11_015, d_th_h11_015), (d_tau_h00_015, d_th_h00_015)),
    ((d_tau_gitt_011, d_th_gitt_011), (d_tau_h11_011, d_th_h11_011), (d_tau_h00_011, d_th_h00_011)),
]
for i, trio in enumerate(d_sets):
    for m, (t, v) in zip(('gitt', 'h11', 'h00'), trio):
        series(ax, t, v, m, label=(i == 0))
frame(ax, (1.173, 6.45), (-0.016, 0.825), [2, 3, 4, 5, 6], 0.2,
      [0, 0.2, 0.4, 0.6, 0.8], 0.05, '%d', '%.1f')
legend(ax, 525, 383)
arrow(ax, (5.27, 0.518), (5.65, 0.407))
arrow(ax, (4.10, 0.45), (4.65, 0.279))
arrow(ax, (3.24, 0.37), (3.86, 0.174))
st_label(ax, 5.79, 0.352, 'St = 0.11')
st_label(ax, 5.08, 0.238, 'St = 0.15')
st_label(ax, 4.15, 0.123, 'St = 0.20')
texts('(d)', (460, 344), 'Bi=1.0', (700, 353), TLAB, (472, 487), (700, 646))

# ---- (e)
ax = make_axes(66, 701, 437, 930)
e_sets = [
    ((e_tau_gitt_020, e_v_gitt_020), (e_tau_h11_020, e_v_h11_020)),
    ((e_tau_gitt_015, e_v_gitt_015), (e_tau_h11_015, e_v_h11_015)),
    ((e_tau_gitt_011, e_v_gitt_011), (e_tau_h11_011, e_v_h11_011)),
]
for i, pair in enumerate(e_sets):
    for m, (t, v) in zip(('gitt', 'h11'), pair):
        series(ax, t, v, m, label=(i == 0))
frame(ax, (0.507, 2.94), (-0.015, 1.043), [1.0, 1.5, 2.0, 2.5], 0.1,
      [0, 0.2, 0.4, 0.6, 0.8, 1.0], 0.05, '%.1f', '%.1f')
legend(ax, 250, 710, fs=13.5, sp=0.85, hl=2.0)
arrow(ax, (0.867, 0.551), (1.31, 0.888), both=True)
arrow(ax, (2.096, 0.262), (2.347, 0.546))
st_label(ax, 1.386, 0.938, 'St = 0.11', fs=13)
st_label(ax, 0.895, 0.469, 'St = 0.20', fs=13)
st_label(ax, 2.434, 0.60, 'St = 0.15', fs=13)
texts('(e)', (19, 682), 'Bi=5.0', (252, 683), VLAB, (22, 817), (252, 975))

# ---- (f)
ax = make_axes(518, 699, 893, 932)
f_sets = [
    ((f_tau_gitt_020, f_th_gitt_020), (f_tau_h11_020, f_th_h11_020)),
    ((f_tau_gitt_015, f_th_gitt_015), (f_tau_h11_015, f_th_h11_015)),
    ((f_tau_gitt_011, f_th_gitt_011), (f_tau_h11_011, f_th_h11_011)),
]
for i, pair in enumerate(f_sets):
    for m, (t, v) in zip(('gitt', 'h11'), pair):
        series(ax, t, v, m, label=(i == 0))
frame(ax, (0.5, 2.927), (-0.017, 0.998), [1.0, 1.5, 2.0, 2.5], 0.1,
      [0, 0.2, 0.4, 0.6, 0.8], 0.05, '%.1f', '%.1f')
legend(ax, 642, 845, fs=13.5, sp=0.85, hl=2.0)
arrow(ax, (0.989, 0.673), (0.86, 0.812))
arrow(ax, (1.96, 0.88), (2.079, 0.586))
arrow(ax, (2.435, 0.855), (2.52, 0.71))
st_label(ax, 0.838, 0.848, 'St = 0.20', fs=11.5)
st_label(ax, 2.122, 0.54, 'St = 0.15', fs=11.5)
st_label(ax, 2.554, 0.666, 'St = 0.11', fs=11.5)
texts('(f)', (459, 682), 'Bi=5.0', (707, 683), TLAB, (474, 813), (707, 977))

fig.savefig('out.png', dpi=100)
